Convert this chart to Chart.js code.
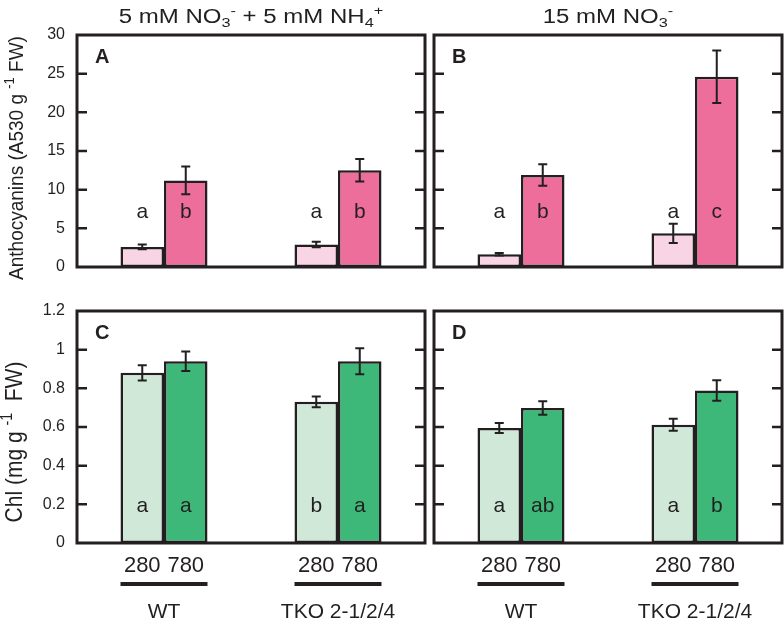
<!DOCTYPE html>
<html>
<head>
<meta charset="utf-8">
<script src="https://cdn.jsdelivr.net/npm/chart.js@4.4.0/dist/chart.umd.min.js"></script>
<style>
  html, body { margin: 0; padding: 0; background: #fff; }
  #fig { position: relative; width: 784px; height: 620px; overflow: hidden;
         font-family: "Liberation Sans", Arial, sans-serif; color: #231f20; }
  #fig canvas { position: absolute; left: 0; top: 0; }
  .head { position: absolute; top: 4px; font-size: 20px; line-height: 24px; text-align: center;
          white-space: pre; transform: scaleX(1.2); }
  .ytitle { position: absolute; line-height: 20px; white-space: pre;
            transform: translate(-50%, -50%) rotate(-90deg) scaleY(1.1); }
  .lo, .hi { font-size: 0.68em; position: relative; }
  .lo { top: 0.32em; }
  .hi { top: -0.6em; }
</style>
</head>
<body>
<div id="fig">
  <canvas id="panelA" width="784" height="620"></canvas>
  <canvas id="panelB" width="784" height="620"></canvas>
  <canvas id="panelC" width="784" height="620"></canvas>
  <canvas id="panelD" width="784" height="620"></canvas>
  <div class="head" style="left:77px;width:348px">5 mM NO<span class="lo">3</span><span class="hi">-</span> + 5 mM NH<span class="lo">4</span><span class="hi">+</span></div>
  <div class="head" style="left:434px;width:348px">15 mM NO<span class="lo">3</span><span class="hi">-</span></div>
  <div class="ytitle" style="left:17px;top:158px;font-size:19px">Anthocyanins (A530 g <span class="hi">-1</span> FW)</div>
  <div class="ytitle" style="left:15px;top:442px;font-size:21px">Chl (mg g <span class="hi">-1</span>  FW)</div>
</div>
<script>
const groups = ['WT', 'TKO 2-1/2/4'];
const lights = ['280', '780'];

// anthocyanins (A530 g-1 FW)
const anthTicks = [0, 5, 10, 15, 20, 25, 30];
const anthNH4_280 = [2.6, 2.9];
const anthNH4_780 = [11.2, 12.5];
const anthNH4_280Err = [0.3, 0.35];
const anthNH4_780Err = [1.8, 1.45];
const anthNO3_280 = [1.65, 4.35];
const anthNO3_780 = [11.9, 24.6];
const anthNO3_280Err = [0.15, 1.25];
const anthNO3_780Err = [1.4, 3.4];

// chlorophyll (mg g-1 FW)
const chlTicks = [0, 0.2, 0.4, 0.6, 0.8, 1, 1.2];
const chlNH4_280 = [0.88, 0.73];
const chlNH4_780 = [0.94, 0.94];
const chlNH4_280Err = [0.04, 0.028];
const chlNH4_780Err = [0.05, 0.067];
const chlNO3_280 = [0.595, 0.612];
const chlNO3_780 = [0.698, 0.789];
const chlNO3_280Err = [0.026, 0.031];
const chlNO3_780Err = [0.035, 0.053];

// significance letters
const lettersA280 = ['a', 'a'];
const lettersA780 = ['b', 'b'];
const lettersB280 = ['a', 'a'];
const lettersB780 = ['b', 'c'];
const lettersC280 = ['a', 'b'];
const lettersC780 = ['a', 'a'];
const lettersD280 = ['a', 'a'];
const lettersD780 = ['ab', 'b'];

const INK = '#231f20';
const FONT = '"Liberation Sans", Arial, sans-serif';
const W = 784, H = 620;
const pink = ['#f9d4e4', '#ee6e9b'];
const green = ['#cfe8d8', '#3db879'];

// error bars, letters, frame, inward ticks, panel tag, group labels
const panelDeco = {
    id: 'panelDeco',
    afterDatasetsDraw(chart, args, opts) {
        const { ctx, chartArea: a, scales: { x, y } } = chart;
        ctx.save();
        ctx.strokeStyle = INK;
        ctx.fillStyle = INK;

        chart.data.datasets.forEach((ds, i) => {
            chart.getDatasetMeta(i).data.forEach((bar, j) => {
                const v = ds.data[j], e = ds.err[j];
                const yHi = y.getPixelForValue(v + e);
                const yLo = y.getPixelForValue(v - e);
                ctx.lineWidth = 2;
                ctx.beginPath();
                ctx.moveTo(bar.x, yHi); ctx.lineTo(bar.x, yLo);
                ctx.moveTo(bar.x - 4.5, yHi); ctx.lineTo(bar.x + 4.5, yHi);
                ctx.moveTo(bar.x - 4.5, yLo); ctx.lineTo(bar.x + 4.5, yLo);
                ctx.stroke();

                ctx.font = '21px ' + FONT;
                ctx.textAlign = 'center';
                ctx.textBaseline = 'alphabetic';
                ctx.fillText(ds.letters[j], bar.x, y.getPixelForValue(opts.letterAt));
            });
        });

        ctx.lineWidth = 3;
        ctx.strokeRect(a.left, a.top, a.right - a.left, a.bottom - a.top);

        ctx.lineWidth = 2.5;
        y.ticks.forEach(t => {
            const py = y.getPixelForValue(t.value);
            if (py <= a.top + 1 || py >= a.bottom - 1) return;
            ctx.beginPath();
            ctx.moveTo(a.left, py); ctx.lineTo(a.left + 10, py);
            ctx.moveTo(a.right, py); ctx.lineTo(a.right - 10, py);
            ctx.stroke();
        });

        ctx.font = 'bold 20px ' + FONT;
        ctx.textAlign = 'left';
        ctx.fillText(opts.tag, a.left + 18, a.top + 28);

        if (opts.groupLabels) {
            const m0 = chart.getDatasetMeta(0).data;
            const m1 = chart.getDatasetMeta(1).data;
            groups.forEach((g, j) => {
                ctx.textAlign = 'center';
                ctx.font = '22px ' + FONT;
                ctx.fillText(lights[0], m0[j].x, a.bottom + 29);
                ctx.fillText(lights[1], m1[j].x, a.bottom + 29);
                ctx.lineWidth = 4;
                ctx.beginPath();
                ctx.moveTo(m0[j].x - m0[j].width / 2, a.bottom + 41);
                ctx.lineTo(m1[j].x + m1[j].width / 2, a.bottom + 41);
                ctx.stroke();
                ctx.font = '21px ' + FONT;
                ctx.fillText(g, x.getPixelForValue(j), a.bottom + 75);
            });
        }
        ctx.restore();
    }
};

function panel(id, box, cfg) {
    const showY = cfg.showY;
    const yW = 77;
    new Chart(document.getElementById(id), {
        type: 'bar',
        data: {
            labels: groups,
            datasets: [
                {
                    label: lights[0], data: cfg.low, err: cfg.lowErr, letters: cfg.lowLetters,
                    backgroundColor: cfg.colors[0]
                },
                {
                    label: lights[1], data: cfg.high, err: cfg.highErr, letters: cfg.highLetters,
                    backgroundColor: cfg.colors[1]
                }
            ]
        },
        options: {
            responsive: false,
            animation: false,
            devicePixelRatio: 1,
            datasets: {
                bar: {
                    categoryPercentage: 0.5,
                    barPercentage: 1.0,
                    borderColor: INK,
                    borderWidth: 2.5,
                    borderSkipped: false
                }
            },
            layout: {
                padding: {
                    left: showY ? box.left - yW : box.left,
                    top: box.top,
                    right: W - box.right,
                    bottom: H - box.bottom
                }
            },
            plugins: {
                legend: { display: false },
                tooltip: { enabled: false },
                panelDeco: { tag: cfg.tag, letterAt: cfg.letterAt, groupLabels: cfg.groupLabels }
            },
            scales: {
                x: { display: false },
                y: {
                    display: showY,
                    min: cfg.ticks[0],
                    max: cfg.ticks[cfg.ticks.length - 1],
                    afterBuildTicks: s => { s.ticks = cfg.ticks.map(v => ({ value: v })); },
                    afterFit: s => { s.width = showY ? yW : 0; },
                    ticks: {
                        padding: 12,
                        color: INK,
                        font: { family: FONT, size: 16 },
                        callback: v => String(v)
                    },
                    grid: { display: false, drawTicks: false },
                    border: { display: false }
                }
            }
        },
        plugins: [panelDeco]
    });
}

panel('panelA', { left: 77, top: 35, right: 425, bottom: 267 }, {
    tag: 'A', showY: true, ticks: anthTicks, colors: pink, letterAt: 6.3,
    low: anthNH4_280, lowErr: anthNH4_280Err, lowLetters: lettersA280,
    high: anthNH4_780, highErr: anthNH4_780Err, highLetters: lettersA780
});
panel('panelB', { left: 434, top: 35, right: 782, bottom: 267 }, {
    tag: 'B', showY: false, ticks: anthTicks, colors: pink, letterAt: 6.3,
    low: anthNO3_280, lowErr: anthNO3_280Err, lowLetters: lettersB280,
    high: anthNO3_780, highErr: anthNO3_780Err, highLetters: lettersB780
});
panel('panelC', { left: 77, top: 311, right: 425, bottom: 543 }, {
    tag: 'C', showY: true, ticks: chlTicks, colors: green, letterAt: 0.158, groupLabels: true,
    low: chlNH4_280, lowErr: chlNH4_280Err, lowLetters: lettersC280,
    high: chlNH4_780, highErr: chlNH4_780Err, highLetters: lettersC780
});
panel('panelD', { left: 434, top: 311, right: 782, bottom: 543 }, {
    tag: 'D', showY: false, ticks: chlTicks, colors: green, letterAt: 0.158, groupLabels: true,
    low: chlNO3_280, lowErr: chlNO3_280Err, lowLetters: lettersD280,
    high: chlNO3_780, highErr: chlNO3_780Err, highLetters: lettersD780
});
</script>
</body>
</html>
